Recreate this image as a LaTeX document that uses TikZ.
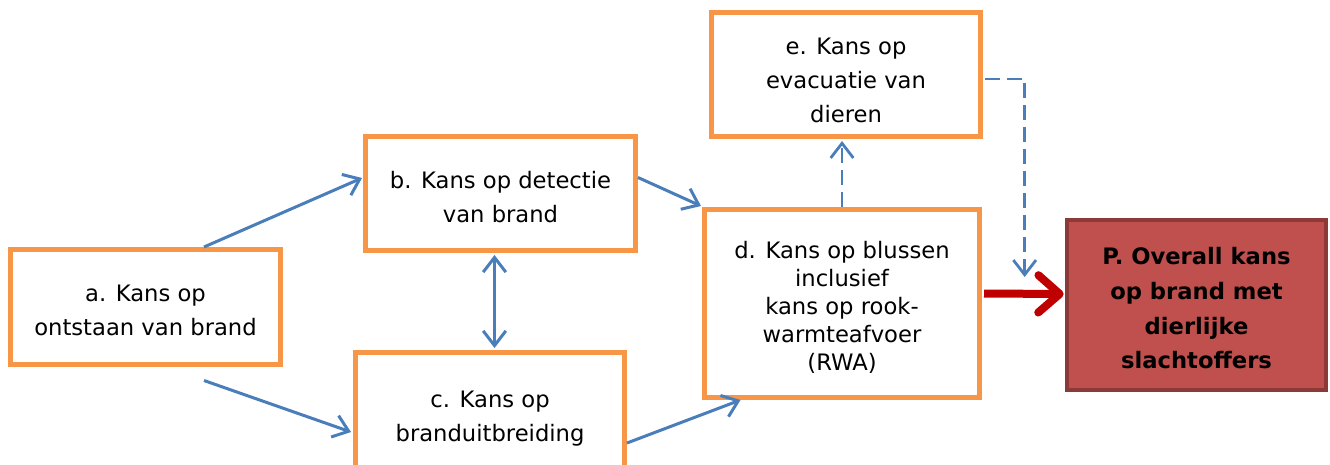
\documentclass[tikz,border=0pt]{standalone}
\usepackage{fontspec}
\setmainfont{DejaVu Sans}
\usetikzlibrary{arrows.meta,calc}
\definecolor{boxorange}{HTML}{F79646}
\definecolor{arrowblue}{HTML}{4A7EBB}
\definecolor{arrowred}{HTML}{C00000}
\definecolor{pfill}{HTML}{C0504D}
\definecolor{pborder}{HTML}{8C3A38}
\tikzset{
  obox/.style={draw=boxorange, line width=3.75pt, fill=white, inner sep=0pt},
  pbox/.style={draw=pborder, line width=3.5pt, fill=pfill, inner sep=0pt},
  txt/.style={align=center, inner sep=0pt, yshift=-2.6pt, font=\fontsize{17}{25.5}\selectfont},
  txtd/.style={txt, yshift=-0.4pt, font=\fontsize{17}{21}\selectfont},
  txtp/.style={txt, font=\fontsize{17}{26}\selectfont\bfseries},
  barrow/.style={draw=arrowblue, line width=2.25pt, -{Straight Barb[length=11pt,width=17pt]}},
  bdouble/.style={draw=arrowblue, line width=2.25pt, {Straight Barb[length=11pt,width=17pt]}-{Straight Barb[length=11pt,width=17pt]}},
  darrow/.style={draw=arrowblue, line width=2.1pt, dash pattern=on 11pt off 5.5pt, -{Straight Barb[length=11pt,width=17pt]}},
  rarrow/.style={draw=arrowred, line width=6pt, -{Straight Barb[length=16pt,width=28pt,round]}},
}
\begin{document}
\begin{tikzpicture}[x=0.75pt,y=-0.75pt]
\useasboundingbox (0,0) rectangle (1330,464);
\node[obox, minimum width=202.5pt, minimum height=86.25pt,
  label={[txt]center:{a. Kans op\\ontstaan van brand}}] (a) at (145.5,307) {};
\node[obox, minimum width=202.5pt, minimum height=85.5pt,
  label={[txt]center:{b. Kans op detectie\\van brand}}] (b) at (500.5,193.5) {};
\node[obox, minimum width=201.75pt, minimum height=93.75pt,
  label={[txt]center:{c. Kans op\\branduitbreiding}}] (c) at (490,415) {};
\node[obox, minimum width=206.25pt, minimum height=141pt,
  label={[txtd]center:{d. Kans op blussen\\inclusief\\kans op rook-\\warmteafvoer\\(RWA)}}] (d) at (842,303.5) {};
\node[obox, minimum width=201.75pt, minimum height=93pt,
  label={[txt, yshift=-2pt]center:{e. Kans op\\evacuatie van\\dieren}}] (e) at (846,74.5) {};
\node[pbox, minimum width=194.25pt, minimum height=127.5pt,
  label={[txtp]center:{P. Overall kans\\op brand met\\dierlijke\\slachtoffers}}] (P) at (1196.5,305) {};

\draw[barrow] ($(a.north)+(58.5,0)$) -- ($(b.west)+(-1,-15.5)$);
\draw[barrow] ($(a.south)+(58.5,13.5)$) -- ($(c.west)+(-2,17)$);
\draw[bdouble] ($(b.south)+(-6,2)$) -- ($(c.north)+(4.5,-2)$);
\draw[barrow] ($(b.east)+(0,-16)$) -- ($(d.north west)+(-1,-1)$);
\draw[barrow] ($(c.east)+(0,28)$) -- ($(d.south west)+(38.5,0)$);
\draw[darrow] (d.north) -- ($(d.north |- e.south)+(0,2)$);
\draw[darrow] ($(e.east)+(2,4.5)$) -| ($(P.west)+(-40,-28)$);
\draw[rarrow] ($(d.east)+(2,-10)$) -- ($(P.west)+(-1,-11)$);
\end{tikzpicture}
\end{document}
